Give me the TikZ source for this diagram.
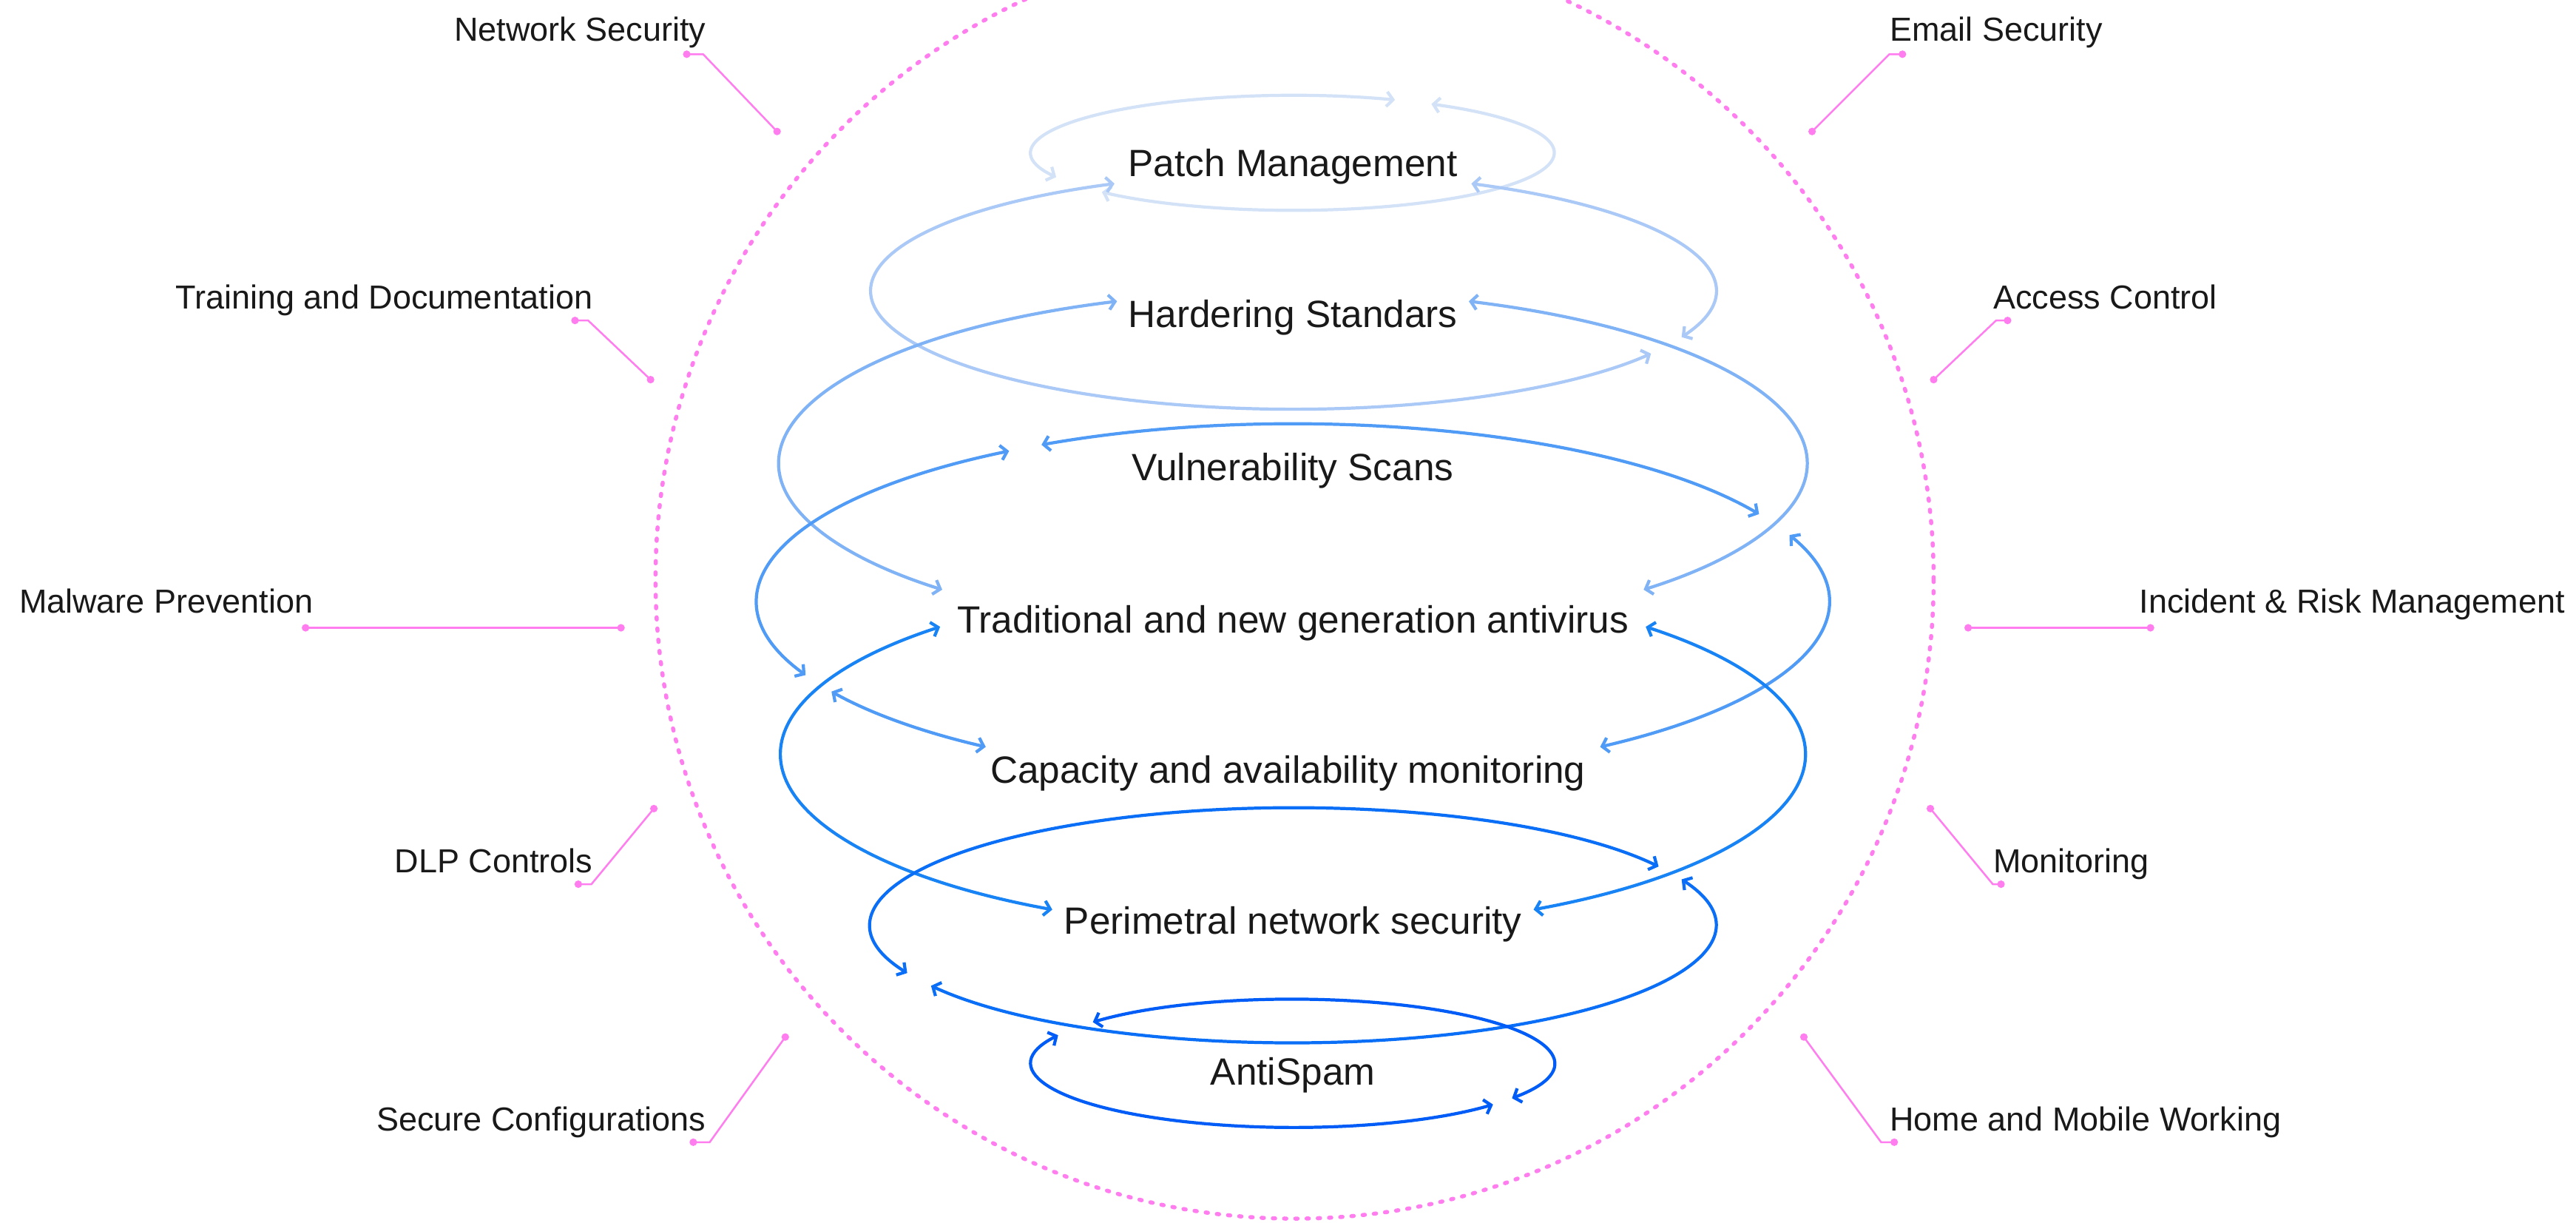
\documentclass[tikz,border=0pt]{standalone}
\usepackage{fontspec}
\setmainfont{Liberation Sans}
\usetikzlibrary{arrows.meta,calc}

\begin{document}
\begin{tikzpicture}[x=0.22213mm, y=0.22213mm,
    ring/.style={draw=ringpink, line width=0.55mm, line cap=round, dash pattern=on 0.3mm off 1.22mm},
    leader/.style={draw=ringpink, line width=0.25mm},
    spiral/.style={line width=1.2pt, {Straight Barb[length=0.85mm,width=2mm]}-{Straight Barb[length=0.85mm,width=2mm]}},
    topic/.style={font=\fontsize{12.8}{15}\selectfont, text=inktext, inner sep=0pt},
    level/.style={font=\fontsize{14.6}{17}\selectfont, text=inktext, inner sep=0pt, anchor=base}]
            % Define colors
            \definecolor{ringpink}{RGB}{255,125,238}
            \definecolor{inktext}{RGB}{25,25,25}
            \definecolor{blueone}{RGB}{211,226,247}
            \definecolor{bluetwo}{RGB}{170,201,246}
            \definecolor{bluethree}{RGB}{128,178,246}
            \definecolor{bluefour}{RGB}{80,155,246}
            \definecolor{bluefive}{RGB}{24,131,245}
            \definecolor{bluesix}{RGB}{10,110,246}
            \definecolor{blueseven}{RGB}{0,92,246}

            % Page frame
            \useasboundingbox (0,0) rectangle (1568,744);
            \clip (0,0) rectangle (1568,744);

            % Dotted ring
            \draw[ring] (788,391.5) circle[radius=389];

            % Spiral arcs, two arrow heads each
            \foreach \col/\cy/\rx/\ry/\s/\e in {
                    blueone/651/159/35/205/67, blueone/651/159/35/58/-137,
                    bluetwo/567/257/72/115/328, bluetwo/567/257/72/65/-23,
                    bluethree/462/313/105/110/227, bluethree/462/313/105/70/-47,
                    bluefour/378/326/108/118/29.5, bluefour/378/326/108/22/-55,
                    bluefour/378/326/108/122/204.5, bluefour/378/326/108/210.5/235,
                    bluefive/285/312/107/133.5/242, bluefive/285/312/107/46.5/-62,
                    bluesix/181/257/71.5/30/204, bluesix/181/257/71.5/211/383,
                    blueseven/97/159/39/140/-33, blueseven/97/159/39/154/320} {
                    \draw[spiral, draw=\col] ($(787,\cy)+({\rx*cos(\s)},{\ry*sin(\s)})$)
                        arc[start angle=\s, end angle=\e, x radius=\rx, y radius=\ry];
                }

            % Levels of the spiral
            \node[level] (patch) at (787,636.7) {Patch Management};
            \node[level] (harden) at (787,544.7) {Hardering Standars};
            \node[level] (vuln) at (787,451.7) {Vulnerability Scans};
            \node[level] (antivirus) at (787,358.7) {Traditional and new generation antivirus};
            \node[level] (capacity) at (784,267.7) {Capacity and availability monitoring};
            \node[level] (perimeter) at (787,175.7) {Perimetral network security};
            \node[level] (antispam) at (787,83.7) {AntiSpam};

            % Topics round the ring
            \node[topic, anchor=base east] (netsec) at (430,719) {Network Security};
            \node[topic, anchor=base east] (training) at (361,556) {Training and Documentation};
            \node[topic, anchor=base east] (malware) at (191,371) {Malware Prevention};
            \node[topic, anchor=base east] (dlp) at (361,213) {DLP Controls};
            \node[topic, anchor=base east] (secconf) at (430,56) {Secure Configurations};
            \node[topic, anchor=base west] (email) at (1150,719) {Email Security};
            \node[topic, anchor=base west] (access) at (1213,556) {Access Control};
            \node[topic, anchor=base west] (incident) at (1302,371) {Incident \& Risk Management};
            \node[topic, anchor=base west] (monitor) at (1213,213) {Monitoring};
            \node[topic, anchor=base west] (mobile) at (1150,56) {Home and Mobile Working};

            % Leader lines with end dots
            \foreach \name/\ox/\oy/\kx/\ix/\iy in {
                    netsec/418/711/428/473/664, email/1158/711/1150/1103/664,
                    training/350/549/358/396/513, access/1222/549/1215/1177/513,
                    malware/186/362/378/378/362, incident/1309/362/1198/1198/362,
                    dlp/352/206/360/398/252, monitor/1218/206/1213/1175/252,
                    secconf/422/49/432/478/113, mobile/1153/49/1145/1098/113} {
                    \coordinate (\name-out) at (\ox,\oy);
                    \coordinate (\name-in) at (\ix,\iy);
                    \draw[leader] (\name-out) -- (\kx,\oy) -- (\name-in);
                    \fill[ringpink] (\name-out) circle[radius=2.3] (\name-in) circle[radius=2.3];
                }

        \end{tikzpicture}
\end{document}
